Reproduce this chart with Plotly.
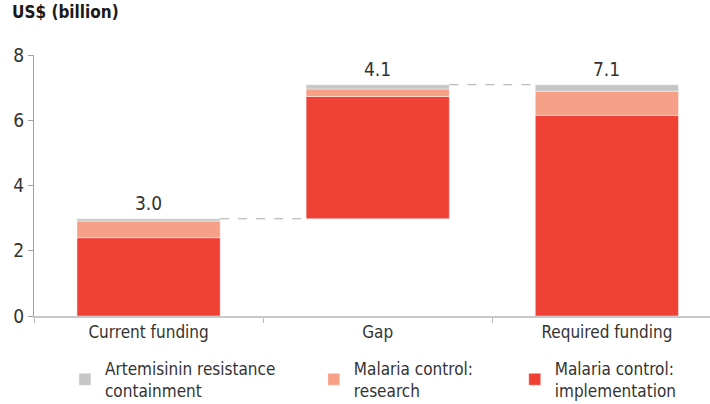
import plotly.graph_objects as go

categories = ["Current funding", "Gap", "Required funding"]
implementation = [2.40, 3.75, 6.15]
research = [0.51, 0.23, 0.74]
artemisinin = [0.07, 0.13, 0.20]
total_labels = ["3.0", "4.1", "7.1"]
series_names = ["Malaria control:<br>implementation", "Malaria control:<br>research",
                "Artemisinin resistance<br>containment"]
colors = ["#ef4136", "#f7a088", "#c6c6c6"]

FONT = "DejaVu Sans Condensed, Roboto, sans-serif"
BAR_W = 0.625

current_total = implementation[0] + research[0] + artemisinin[0]
gap_total = implementation[1] + research[1] + artemisinin[1]
base_impl = [0, current_total, 0]
base_res = [b + v for b, v in zip(base_impl, implementation)]
base_art = [b + v for b, v in zip(base_res, research)]
tops = [b + v for b, v in zip(base_art, artemisinin)]

fig = go.Figure()
for name, vals, base, col, lg in [
    (series_names[0], implementation, base_impl, colors[0], "legend3"),
    (series_names[1], research, base_res, colors[1], "legend2"),
    (series_names[2], artemisinin, base_art, colors[2], "legend"),
]:
    fig.add_trace(go.Bar(
        x=categories, y=vals, base=base, name=name, width=BAR_W, legend=lg,
        marker=dict(color=col, line=dict(color="rgba(255,255,255,0.6)", width=0.75)),
        hoverinfo="skip",
    ))

for i, lab in enumerate(total_labels):
    fig.add_annotation(x=categories[i], y=tops[i], text=lab, showarrow=False,
                       yanchor="bottom", yshift=3,
                       font=dict(family=FONT, size=19, color="#333333"))

# dashed connectors
for i, y in [(0, current_total), (1, current_total + gap_total)]:
    fig.add_shape(type="line", xref="x", yref="y",
                  x0=i + BAR_W / 2, x1=i + 1 - BAR_W / 2, y0=y, y1=y,
                  line=dict(color="#aaaaaa", width=1, dash="dash"))

fig.add_annotation(xref="paper", yref="paper", x=-0.036, y=1.165, xanchor="left",
                   yanchor="middle", text="<b>US$ (billion)</b>", showarrow=False,
                   font=dict(family=FONT, size=17, color="#1a1a1a"))

legend_font = dict(family=FONT, size=17, color="#333333")
leg_common = dict(xref="container", yref="container", xanchor="left", yanchor="top",
                  y=0.132, font=legend_font, itemclick=False, bgcolor="rgba(0,0,0,0)")

fig.update_layout(
    width=710, height=404,
    margin=dict(l=34, r=0, t=55, b=88, autoexpand=False),
    barmode="overlay",
    plot_bgcolor="white", paper_bgcolor="white",
    font=dict(family=FONT, size=17, color="#333333"),
    showlegend=True,
    legend=dict(x=0.0915, **leg_common),
    legend2=dict(x=0.442, **leg_common),
    legend3=dict(x=0.725, **leg_common),
    xaxis=dict(type="category", range=[-0.5, 2.45], tickson="boundaries",
               ticks="outside", ticklen=5, tickcolor="#bbbbbb", automargin=False,
               showline=True, linecolor="#c8c8c8", linewidth=2,
               showgrid=False, tickfont=dict(family=FONT, size=17, color="#333333")),
    yaxis=dict(range=[0, 8], tickvals=[0, 2, 4, 6, 8], ticks="outside", ticklen=5,
               tickcolor="#a0a0a0", showline=True, linecolor="#a0a0a0", linewidth=1,
               showgrid=False, zeroline=False, automargin=False,
               tickfont=dict(family=FONT, size=19, color="#333333")),
)

fig.write_html("out.html", config={"displayModeBar": False},
               post_script="document.body.style.margin='0';")
